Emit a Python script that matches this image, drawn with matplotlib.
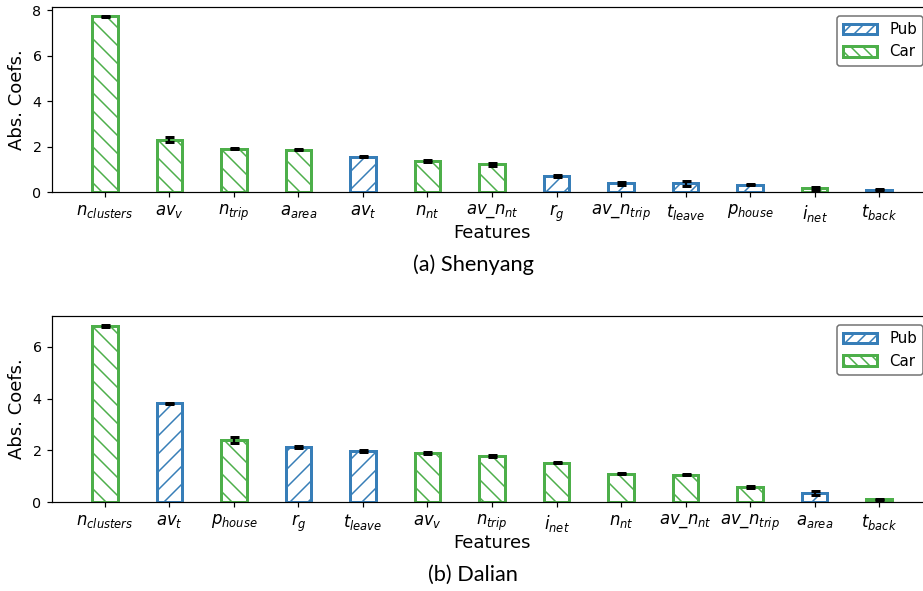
import matplotlib
matplotlib.use('Agg')
import matplotlib.pyplot as plt
from matplotlib.patches import Patch

# colours for the two transport modes
pub_colour = '#377eb8'
car_colour = '#4daf4a'

# Shenyang
sy_features = ['$n_{clusters}$', '$av_v$', '$n_{trip}$', '$a_{area}$', '$av_t$', '$n_{nt}$',
               '$av\\_n_{nt}$', '$r_g$', '$av\\_n_{trip}$', '$t_{leave}$', '$p_{house}$',
               '$i_{net}$', '$t_{back}$']
sy_coefs = [7.72, 2.30, 1.91, 1.86, 1.56, 1.36, 1.21, 0.70, 0.38, 0.38, 0.32, 0.16, 0.10]
sy_errs = [0.03, 0.10, 0.02, 0.02, 0.03, 0.04, 0.05, 0.04, 0.08, 0.10, 0.02, 0.06, 0.02]
sy_mode = ['Car', 'Car', 'Car', 'Car', 'Pub', 'Car', 'Car', 'Pub', 'Pub', 'Pub', 'Pub', 'Car', 'Pub']

# Dalian
dl_features = ['$n_{clusters}$', '$av_t$', '$p_{house}$', '$r_g$', '$t_{leave}$', '$av_v$',
               '$n_{trip}$', '$i_{net}$', '$n_{nt}$', '$av\\_n_{nt}$', '$av\\_n_{trip}$',
               '$a_{area}$', '$t_{back}$']
dl_coefs = [6.80, 3.81, 2.40, 2.12, 1.97, 1.91, 1.79, 1.52, 1.10, 1.05, 0.58, 0.34, 0.10]
dl_errs = [0.05, 0.02, 0.10, 0.04, 0.03, 0.04, 0.04, 0.02, 0.02, 0.02, 0.03, 0.07, 0.02]
dl_mode = ['Car', 'Pub', 'Car', 'Pub', 'Pub', 'Car', 'Car', 'Car', 'Car', 'Car', 'Car', 'Pub', 'Car']

colours = {'Pub': pub_colour, 'Car': car_colour}
hatches = {'Pub': '//', 'Car': '\\\\'}

W, H, DPI = 923, 591, 108
fig = plt.figure(figsize=(W / DPI, H / DPI), dpi=DPI)


def draw_panel(rect, features, coefs, errs, modes, caption, caption_y):
    ax = fig.add_axes(rect)
    x = range(len(features))
    bars = ax.bar(x, coefs, width=0.4, yerr=errs, color='white',
                  edgecolor=[colours[m] for m in modes], linewidth=2,
                  error_kw=dict(ecolor='black', elinewidth=1.5, capsize=3, capthick=2))
    for b, m in zip(bars, modes):
        b.set_hatch(hatches[m])
    ax.set_xticks(list(x))
    ax.set_xticklabels(features, fontsize=11)
    ax.tick_params(axis='y', labelsize=9.5)
    ax.set_ylabel('Abs. Coefs.', fontsize=12)
    ax.set_xlabel('Features', fontsize=12, labelpad=0)
    handles = [Patch(facecolor='white', edgecolor=pub_colour, hatch='///', linewidth=2, label='Pub'),
               Patch(facecolor='white', edgecolor=car_colour, hatch='\\\\\\', linewidth=2, label='Car')]
    leg = ax.legend(handles=handles, loc='upper right', fontsize=10, handlelength=2.3,
                    borderaxespad=0.6)
    leg.get_frame().set_edgecolor('0.3')
    fig.text(473 / W, 1 - caption_y / H, caption, ha='center', va='center',
             fontsize=14.5, family='Lato')
    return ax


draw_panel([52 / W, 1 - 192 / H, 880 / W, 185 / H], sy_features, sy_coefs, sy_errs, sy_mode,
           '(a) Shenyang', 265)
draw_panel([52 / W, 1 - 502 / H, 880 / W, 186 / H], dl_features, dl_coefs, dl_errs, dl_mode,
           '(b) Dalian', 575)

fig.savefig('out.png', dpi=DPI)
